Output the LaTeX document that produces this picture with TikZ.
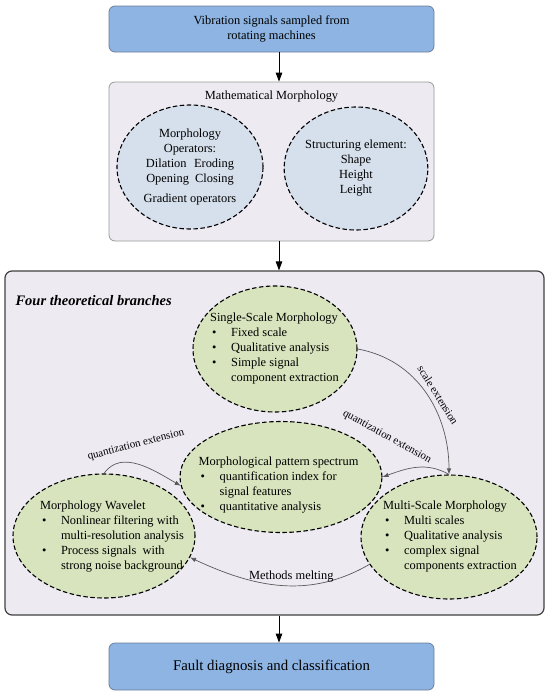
\documentclass[tikz,border=0pt]{standalone}
\usepackage{fontspec}
\setmainfont{Liberation Serif}
\usepackage{xcolor}
\usetikzlibrary{arrows.meta,positioning,calc,shapes.geometric}
\definecolor{flowblue}{HTML}{8DB4E2}
\definecolor{boxedge}{HTML}{6D7E99}
\definecolor{lavender}{HTML}{EDEAF2}
\definecolor{paleblue}{HTML}{D6E0EC}
\definecolor{palegreen}{HTML}{D7E4BD}
\newcommand{\bul}{\makebox[21pt][l]{\hspace{2pt}\textbullet}}
\newcommand{\ind}{\hspace*{21pt}}

\begin{document}
\begin{tikzpicture}[x=1pt,y=1pt,
  font=\fontsize{12.4}{15}\selectfont,
  flowbox/.style={draw=boxedge,line width=0.8pt,rounded corners=6pt,fill=flowblue,minimum width=325pt,align=center},
  dashell/.style={ellipse,draw,dash pattern=on 4.5pt off 2.5pt,line width=1.1pt,inner sep=0pt,align=center},
  listtxt/.style={align=left,inner sep=0pt},
  mainarrow/.style={-{Triangle[length=9pt,width=6.5pt]},line width=0.9pt},
  bendarrow/.style={-{Latex[length=6pt,width=4.5pt]},draw=black!65,line width=0.7pt},
  lbl/.style={font=\fontsize{11}{13}\selectfont,inner sep=1pt}]
\useasboundingbox (0,0) rectangle (550,-696);

% input, morphology tools and output
\node[flowbox,minimum height=46pt] (signals) at (271.5,-29) {Vibration signals sampled from\\rotating machines};
\node[draw=black!40,line width=0.8pt,rounded corners=6pt,fill=lavender,minimum width=325pt,minimum height=159pt] (mm) at (271.5,-161.5) {};
\node (mmtitle) at (271.5,-97) {Mathematical Morphology};
\node[dashell,fill=paleblue,minimum width=146pt,minimum height=124pt] (ops) at (190,-167) {Morphology\\Operators:\\Dilation\hspace{0.6em}Eroding\\Opening\hspace{0.5em}Closing\\[5pt]Gradient operators};
\node[dashell,fill=paleblue,minimum width=142pt,minimum height=123pt] (elem) at (356,-168.5) {Structuring element:\\Shape\\Height\\Leight};
\node[flowbox,minimum height=47pt,font=\fontsize{14.8}{17}\selectfont] (fault) at (271.5,-666.5) {Fault diagnosis and classification};

% the four branches
\node[draw=black!75,line width=1.2pt,rounded corners=7pt,fill=lavender,minimum width=539pt,minimum height=344pt] (branches) at (274.5,-443) {};
\node[anchor=west,font=\fontsize{14.5}{17}\selectfont\bfseries\itshape] (brtitle) at (12,-301) {Four theoretical branches};

\node[dashell,fill=palegreen,minimum width=164pt,minimum height=126pt] (single) at (275,-349) {};
\node[listtxt] (singletxt) at (274.5,-349) {Single-Scale Morphology\\ \bul Fixed scale\\ \bul Qualitative analysis\\ \bul Simple signal\\ \ind component extraction};
\node[dashell,fill=palegreen,minimum width=202pt,minimum height=111pt] (spec) at (281,-477) {};
\node[listtxt] (spectxt) at (278.5,-485) {Morphological pattern spectrum\\ \bul quantification index for\\ \ind signal features\\ \bul quantitative analysis};
\node[dashell,fill=palegreen,minimum width=182pt,minimum height=124pt] (wavelet) at (104,-536) {};
\node[listtxt] (wavelettxt) at (112,-537) {Morphology Wavelet\\ \bul Nonlinear filtering with\\ \ind multi-resolution analysis\\ \bul Process signals\ \ with\\ \ind strong noise background};
\node[dashell,fill=palegreen,minimum width=176pt,minimum height=124pt] (multi) at (449,-537) {};
\node[listtxt] (multitxt) at (450,-537) {Multi-Scale Morphology\\ \bul Multi scales\\ \bul Qualitative analysis\\ \bul complex signal\\ \ind components extraction};

% main flow
\draw[mainarrow] ([xshift=7.5pt]signals.south) -- ([xshift=7.5pt]signals.south |- mm.north);
\draw[mainarrow] ([xshift=7.5pt]mm.south) -- ([xshift=7.5pt]mm.south |- branches.north);
\draw[mainarrow] ([xshift=7.5pt]fault.north |- branches.south) -- ([xshift=7.5pt]fault.north);

% links between branches
\draw[bendarrow] (single.east) to[out=-10,in=90] (multi.north);
\draw[bendarrow] (multi.north) to[out=150,in=20] (spec.east);
\draw[bendarrow] (wavelet.north) to[out=55,in=150] (spec.185);
\draw[bendarrow] (multi.199) to[out=-150,in=-25] node[above,pos=0.44] {Methods melting} (wavelet.-14);
\node[lbl,rotate=-58] (scalelab) at (438,-395) {scale extension};
\node[lbl,rotate=-29] (qlabR) at (387,-437) {quantization extension};
\node[lbl,rotate=14.5] (qlabL) at (136,-445) {quantization extension};
\end{tikzpicture}
\end{document}
